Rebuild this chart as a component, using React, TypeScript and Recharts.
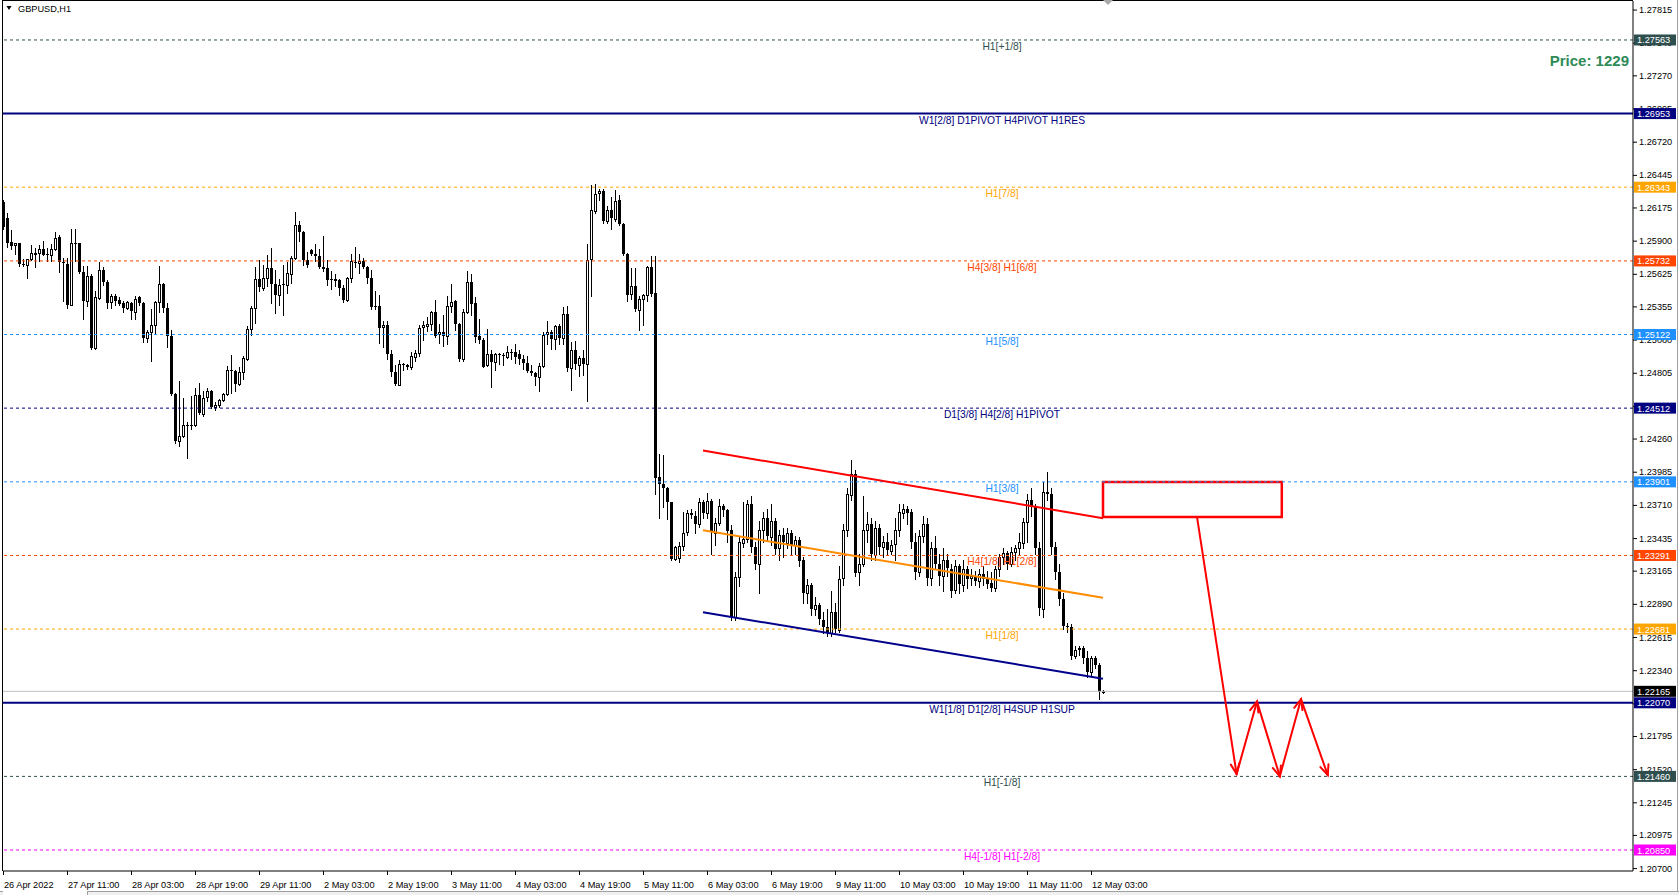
import { Bar, ComposedChart, ReferenceArea, ReferenceLine, XAxis, YAxis } from "recharts";

const CHART_W = 1679;
const CHART_H = 895;
const FONT = "'Liberation Sans', Arial, sans-serif";

// price window of the plot, bar index runs past the last bar (chart shift)
const Y_MIN = 1.20676;
const Y_MAX = 1.27886;
const X_MAX = 407.5;

// GBPUSD H1, bar 0 = 26 Apr 2022 19:00
const OPEN = [
  1.2622, 1.2609, 1.2589, 1.2586, 1.2588, 1.2571, 1.2570, 1.2575, 1.2579, 1.2580,
  1.2583, 1.2579, 1.2578, 1.2583, 1.2593, 1.2572, 1.2571, 1.2537, 1.2588, 1.2588,
  1.2564, 1.2540, 1.2561, 1.2501, 1.2543, 1.2566, 1.2556, 1.2539, 1.2544, 1.2541,
  1.2538, 1.2534, 1.2538, 1.2531, 1.2543, 1.2538, 1.2509, 1.2514, 1.2520, 1.2539,
  1.2554, 1.2534, 1.2511, 1.2463, 1.2424, 1.2428, 1.2437, 1.2437, 1.2437, 1.2462,
  1.2447, 1.2460, 1.2465, 1.2452, 1.2454, 1.2458, 1.2463, 1.2483, 1.2482, 1.2471,
  1.2481, 1.2492, 1.2517, 1.2534, 1.2558, 1.2551, 1.2559, 1.2567, 1.2554, 1.2545,
  1.2554, 1.2553, 1.2563, 1.2576, 1.2603, 1.2597, 1.2574, 1.2582, 1.2579, 1.2577,
  1.2568, 1.2567, 1.2558, 1.2557, 1.2557, 1.2551, 1.2541, 1.2559, 1.2572, 1.2571,
  1.2573, 1.2568, 1.2559, 1.2536, 1.2536, 1.2518, 1.2520, 1.2496, 1.2481, 1.2471,
  1.2488, 1.2487, 1.2485, 1.2494, 1.2497, 1.2518, 1.2519, 1.2521, 1.2531, 1.2512,
  1.2514, 1.2511, 1.2536, 1.2540, 1.2521, 1.2492, 1.2531, 1.2556, 1.2538, 1.2511,
  1.2508, 1.2487, 1.2496, 1.2489, 1.2496, 1.2495, 1.2494, 1.2498, 1.2498, 1.2496,
  1.2492, 1.2489, 1.2482, 1.2480, 1.2477, 1.2486, 1.2512, 1.2514, 1.2508, 1.2519,
  1.2509, 1.2529, 1.2484, 1.2499, 1.2487, 1.2493, 1.2488, 1.2574, 1.2615, 1.2629,
  1.2631, 1.2606, 1.2615, 1.2608, 1.2624, 1.2604, 1.2579, 1.2545, 1.2552, 1.2533,
  1.2542, 1.2545, 1.2568, 1.2547, 1.2394, 1.2388, 1.2385, 1.2373, 1.2326, 1.2327,
  1.2337, 1.2348, 1.2364, 1.2362, 1.2355, 1.2373, 1.2364, 1.2374, 1.2348, 1.2356,
  1.2370, 1.2367, 1.2350, 1.2278, 1.2311, 1.2340, 1.2343, 1.2372, 1.2336, 1.2322,
  1.2350, 1.2360, 1.2345, 1.2358, 1.2335, 1.2346, 1.2340, 1.2348, 1.2338, 1.2342,
  1.2325, 1.2298, 1.2305, 1.2285, 1.2288, 1.2276, 1.2270, 1.2265, 1.2282, 1.2268,
  1.2310, 1.2350, 1.2380, 1.2397, 1.2315, 1.2322, 1.2350, 1.2355, 1.2330, 1.2352,
  1.2336, 1.2340, 1.2333, 1.2338, 1.2350, 1.2365, 1.2368, 1.2365, 1.2340, 1.2315,
  1.2345, 1.2355, 1.2310, 1.2335, 1.2322, 1.2312, 1.2325, 1.2318, 1.2300, 1.2320,
  1.2305, 1.2318, 1.2310, 1.2312, 1.2308, 1.2314, 1.2310, 1.2306, 1.2302, 1.2318,
  1.2328, 1.2331, 1.2322, 1.2332, 1.2335, 1.2340, 1.2357, 1.2375, 1.2370, 1.2335,
  1.2285, 1.2382, 1.2380, 1.2336, 1.2315, 1.2293, 1.2271, 1.2270, 1.2246, 1.2251,
  1.2252, 1.2244, 1.2232, 1.2244, 1.2238, 1.2216,
];
const HIGH = [
  1.2624, 1.2613, 1.2599, 1.2588, 1.2588, 1.2575, 1.2575, 1.2586, 1.2584, 1.2586,
  1.2590, 1.2584, 1.2587, 1.2597, 1.2595, 1.2576, 1.2576, 1.2600, 1.2600, 1.2588,
  1.2569, 1.2569, 1.2562, 1.2548, 1.2572, 1.2568, 1.2557, 1.2546, 1.2546, 1.2543,
  1.2540, 1.2540, 1.2539, 1.2544, 1.2544, 1.2539, 1.2516, 1.2533, 1.2540, 1.2569,
  1.2555, 1.2538, 1.2516, 1.2464, 1.2474, 1.2460, 1.2440, 1.2461, 1.2468, 1.2472,
  1.2465, 1.2468, 1.2466, 1.2456, 1.2459, 1.2464, 1.2486, 1.2495, 1.2483, 1.2485,
  1.2494, 1.2519, 1.2536, 1.2568, 1.2574, 1.2570, 1.2578, 1.2584, 1.2566, 1.2558,
  1.2570, 1.2572, 1.2577, 1.2614, 1.2606, 1.2598, 1.2581, 1.2583, 1.2587, 1.2583,
  1.2594, 1.2574, 1.2565, 1.2562, 1.2558, 1.2553, 1.2560, 1.2579, 1.2585, 1.2579,
  1.2576, 1.2569, 1.2566, 1.2548, 1.2545, 1.2523, 1.2523, 1.2499, 1.2487, 1.2491,
  1.2489, 1.2488, 1.2498, 1.2499, 1.2520, 1.2523, 1.2527, 1.2532, 1.2541, 1.2521,
  1.2528, 1.2544, 1.2554, 1.2541, 1.2522, 1.2533, 1.2565, 1.2562, 1.2543, 1.2525,
  1.2509, 1.2517, 1.2499, 1.2497, 1.2497, 1.2497, 1.2503, 1.2500, 1.2504, 1.2499,
  1.2495, 1.2494, 1.2487, 1.2481, 1.2489, 1.2514, 1.2523, 1.2516, 1.2520, 1.2521,
  1.2535, 1.2536, 1.2506, 1.2507, 1.2494, 1.2499, 1.2587, 1.2636, 1.2637, 1.2633,
  1.2633, 1.2619, 1.2626, 1.2632, 1.2628, 1.2605, 1.2580, 1.2567, 1.2567, 1.2544,
  1.2546, 1.2569, 1.2577, 1.2577, 1.2413, 1.2412, 1.2386, 1.2373, 1.2337, 1.2340,
  1.2365, 1.2367, 1.2368, 1.2366, 1.2377, 1.2375, 1.2381, 1.2376, 1.2360, 1.2376,
  1.2372, 1.2368, 1.2354, 1.2315, 1.2345, 1.2373, 1.2375, 1.2378, 1.2340, 1.2358,
  1.2365, 1.2368, 1.2372, 1.2360, 1.2350, 1.2352, 1.2352, 1.2350, 1.2345, 1.2344,
  1.2328, 1.2310, 1.2306, 1.2295, 1.2290, 1.2282, 1.2285, 1.2300, 1.2290, 1.2320,
  1.2355, 1.2385, 1.2408, 1.2400, 1.2330, 1.2378, 1.2365, 1.2360, 1.2358, 1.2355,
  1.2345, 1.2348, 1.2342, 1.2360, 1.2372, 1.2372, 1.2370, 1.2368, 1.2348, 1.2350,
  1.2362, 1.2360, 1.2340, 1.2345, 1.2330, 1.2335, 1.2330, 1.2322, 1.2325, 1.2322,
  1.2325, 1.2320, 1.2318, 1.2316, 1.2318, 1.2320, 1.2316, 1.2315, 1.2320, 1.2330,
  1.2335, 1.2333, 1.2336, 1.2338, 1.2348, 1.2360, 1.2380, 1.2385, 1.2372, 1.2340,
  1.2390, 1.2398, 1.2385, 1.2340, 1.2322, 1.2298, 1.2273, 1.2272, 1.2254, 1.2254,
  1.2254, 1.2250, 1.2246, 1.2246, 1.2240, 1.2218,
];
const LOW = [
  1.2600, 1.2585, 1.2583, 1.2579, 1.2569, 1.2569, 1.2559, 1.2574, 1.2568, 1.2573,
  1.2578, 1.2573, 1.2573, 1.2582, 1.2564, 1.2540, 1.2534, 1.2537, 1.2573, 1.2563,
  1.2525, 1.2536, 1.2500, 1.2500, 1.2542, 1.2553, 1.2534, 1.2534, 1.2537, 1.2537,
  1.2531, 1.2533, 1.2525, 1.2525, 1.2537, 1.2506, 1.2506, 1.2490, 1.2513, 1.2531,
  1.2531, 1.2502, 1.2462, 1.2422, 1.2420, 1.2427, 1.2410, 1.2434, 1.2436, 1.2446,
  1.2445, 1.2457, 1.2451, 1.2450, 1.2452, 1.2457, 1.2462, 1.2464, 1.2465, 1.2470,
  1.2475, 1.2491, 1.2512, 1.2522, 1.2548, 1.2549, 1.2552, 1.2538, 1.2530, 1.2537,
  1.2528, 1.2547, 1.2555, 1.2575, 1.2590, 1.2570, 1.2568, 1.2578, 1.2573, 1.2567,
  1.2565, 1.2553, 1.2550, 1.2552, 1.2545, 1.2539, 1.2540, 1.2556, 1.2568, 1.2563,
  1.2567, 1.2555, 1.2533, 1.2533, 1.2505, 1.2502, 1.2492, 1.2478, 1.2470, 1.2470,
  1.2483, 1.2484, 1.2484, 1.2490, 1.2494, 1.2508, 1.2515, 1.2516, 1.2510, 1.2505,
  1.2503, 1.2504, 1.2531, 1.2516, 1.2490, 1.2490, 1.2530, 1.2528, 1.2506, 1.2505,
  1.2485, 1.2486, 1.2469, 1.2483, 1.2488, 1.2487, 1.2493, 1.2492, 1.2489, 1.2488,
  1.2484, 1.2481, 1.2479, 1.2470, 1.2465, 1.2485, 1.2504, 1.2500, 1.2500, 1.2504,
  1.2504, 1.2482, 1.2466, 1.2484, 1.2478, 1.2479, 1.2457, 1.2544, 1.2613, 1.2624,
  1.2605, 1.2605, 1.2600, 1.2606, 1.2603, 1.2578, 1.2540, 1.2542, 1.2532, 1.2516,
  1.2520, 1.2540, 1.2544, 1.2380, 1.2360, 1.2369, 1.2359, 1.2325, 1.2325, 1.2324,
  1.2334, 1.2346, 1.2360, 1.2348, 1.2353, 1.2360, 1.2360, 1.2330, 1.2338, 1.2354,
  1.2362, 1.2340, 1.2276, 1.2276, 1.2304, 1.2336, 1.2340, 1.2332, 1.2318, 1.2298,
  1.2340, 1.2342, 1.2338, 1.2330, 1.2325, 1.2328, 1.2335, 1.2330, 1.2330, 1.2320,
  1.2290, 1.2290, 1.2280, 1.2280, 1.2272, 1.2265, 1.2262, 1.2262, 1.2266, 1.2266,
  1.2305, 1.2345, 1.2375, 1.2312, 1.2305, 1.2320, 1.2340, 1.2325, 1.2325, 1.2330,
  1.2328, 1.2330, 1.2330, 1.2325, 1.2345, 1.2360, 1.2355, 1.2335, 1.2310, 1.2312,
  1.2340, 1.2305, 1.2305, 1.2318, 1.2305, 1.2300, 1.2312, 1.2295, 1.2298, 1.2298,
  1.2300, 1.2302, 1.2305, 1.2305, 1.2303, 1.2305, 1.2302, 1.2300, 1.2300, 1.2312,
  1.2322, 1.2318, 1.2320, 1.2325, 1.2330, 1.2335, 1.2340, 1.2362, 1.2330, 1.2280,
  1.2278, 1.2375, 1.2330, 1.2310, 1.2288, 1.2268, 1.2266, 1.2243, 1.2244, 1.2247,
  1.2240, 1.2228, 1.2230, 1.2236, 1.2210, 1.2215,
];
const CLOSE = [
  1.2601, 1.2588, 1.2586, 1.2588, 1.2571, 1.2570, 1.2575, 1.2580, 1.2580, 1.2583,
  1.2578, 1.2578, 1.2583, 1.2592, 1.2572, 1.2571, 1.2537, 1.2588, 1.2587, 1.2564,
  1.2540, 1.2561, 1.2501, 1.2543, 1.2566, 1.2556, 1.2539, 1.2544, 1.2540, 1.2538,
  1.2534, 1.2539, 1.2531, 1.2542, 1.2538, 1.2509, 1.2514, 1.2520, 1.2539, 1.2554,
  1.2534, 1.2511, 1.2463, 1.2424, 1.2428, 1.2437, 1.2436, 1.2436, 1.2462, 1.2447,
  1.2460, 1.2465, 1.2452, 1.2454, 1.2458, 1.2463, 1.2483, 1.2482, 1.2471, 1.2481,
  1.2493, 1.2517, 1.2534, 1.2558, 1.2551, 1.2559, 1.2567, 1.2554, 1.2545, 1.2553,
  1.2553, 1.2563, 1.2576, 1.2603, 1.2597, 1.2574, 1.2570, 1.2579, 1.2577, 1.2568,
  1.2566, 1.2557, 1.2557, 1.2558, 1.2550, 1.2541, 1.2559, 1.2573, 1.2571, 1.2573,
  1.2568, 1.2559, 1.2535, 1.2535, 1.2518, 1.2520, 1.2496, 1.2481, 1.2471, 1.2488,
  1.2487, 1.2485, 1.2494, 1.2497, 1.2518, 1.2520, 1.2521, 1.2531, 1.2511, 1.2514,
  1.2511, 1.2536, 1.2539, 1.2521, 1.2492, 1.2531, 1.2556, 1.2538, 1.2510, 1.2508,
  1.2486, 1.2496, 1.2489, 1.2496, 1.2495, 1.2494, 1.2498, 1.2497, 1.2494, 1.2492,
  1.2489, 1.2482, 1.2480, 1.2477, 1.2486, 1.2512, 1.2514, 1.2508, 1.2519, 1.2509,
  1.2529, 1.2484, 1.2499, 1.2487, 1.2493, 1.2488, 1.2574, 1.2615, 1.2629, 1.2631,
  1.2606, 1.2615, 1.2608, 1.2623, 1.2604, 1.2579, 1.2545, 1.2552, 1.2533, 1.2542,
  1.2545, 1.2568, 1.2546, 1.2394, 1.2388, 1.2385, 1.2373, 1.2326, 1.2336, 1.2337,
  1.2348, 1.2364, 1.2362, 1.2355, 1.2373, 1.2364, 1.2374, 1.2348, 1.2356, 1.2370,
  1.2367, 1.2350, 1.2278, 1.2311, 1.2340, 1.2343, 1.2372, 1.2336, 1.2322, 1.2350,
  1.2360, 1.2345, 1.2358, 1.2335, 1.2346, 1.2340, 1.2348, 1.2338, 1.2342, 1.2325,
  1.2298, 1.2305, 1.2285, 1.2288, 1.2276, 1.2270, 1.2265, 1.2282, 1.2268, 1.2310,
  1.2350, 1.2380, 1.2397, 1.2315, 1.2322, 1.2350, 1.2355, 1.2330, 1.2352, 1.2336,
  1.2340, 1.2333, 1.2338, 1.2350, 1.2365, 1.2368, 1.2365, 1.2340, 1.2315, 1.2345,
  1.2355, 1.2310, 1.2335, 1.2322, 1.2312, 1.2325, 1.2318, 1.2300, 1.2320, 1.2305,
  1.2318, 1.2310, 1.2312, 1.2308, 1.2314, 1.2310, 1.2306, 1.2302, 1.2318, 1.2328,
  1.2331, 1.2322, 1.2332, 1.2335, 1.2340, 1.2357, 1.2375, 1.2370, 1.2335, 1.2285,
  1.2382, 1.2380, 1.2336, 1.2315, 1.2293, 1.2271, 1.2270, 1.2246, 1.2251, 1.2252,
  1.2244, 1.2232, 1.2244, 1.2238, 1.2216, 1.22165,
];

const LAST_PRICE = 1.22165;

const TIME_TICKS = [0, 16, 32, 48, 64, 80, 96, 112, 128, 144, 160, 176, 192, 208, 224, 240, 256, 272];
const TIME_LABELS = [
  "26 Apr 2022", "27 Apr 11:00", "28 Apr 03:00", "28 Apr 19:00", "29 Apr 11:00", "2 May 03:00",
  "2 May 19:00", "3 May 11:00", "4 May 03:00", "4 May 19:00", "5 May 11:00", "6 May 03:00",
  "6 May 19:00", "9 May 11:00", "10 May 03:00", "10 May 19:00", "11 May 11:00", "12 May 03:00",
];

const PRICE_TICKS = [
  1.27815, 1.2754, 1.2727, 1.26995, 1.2672, 1.26445, 1.26175, 1.259, 1.25625, 1.25355,
  1.2508, 1.24805, 1.2453, 1.2426, 1.23985, 1.2371, 1.23435, 1.23165, 1.2289, 1.22615,
  1.2234, 1.22065, 1.21795, 1.2152, 1.21245, 1.20975, 1.207,
];

// Murrey math levels
const LEVEL_PRICES = [
  1.27563, 1.26953, 1.26343, 1.25732, 1.25122, 1.24512,
  1.23901, 1.23291, 1.22681, 1.2207, 1.2146, 1.2085,
];
const LEVEL_TAGS = [
  "H1[+1/8]", "W1[2/8] D1PIVOT H4PIVOT H1RES", "H1[7/8]", "H4[3/8] H1[6/8]", "H1[5/8]", "D1[3/8] H4[2/8] H1PIVOT",
  "H1[3/8]", "H4[1/8] H1[2/8]", "H1[1/8]", "W1[1/8] D1[2/8] H4SUP H1SUP", "H1[-1/8]", "H4[-1/8] H1[-2/8]",
];
const LEVEL_COLORS = [
  "#2F4F4F", "#000080", "#FFA500", "#FF4500", "#1E90FF", "#000080",
  "#1E90FF", "#FF4500", "#FFA500", "#000080", "#2F4F4F", "#FF00FF",
];
const LEVEL_SOLID = [false, true, false, false, false, false, false, false, false, true, false, false];

// descending channel drawn from bar 175 to bar 275
const CHANNEL_X = [175, 275];
const CHANNEL_TOP = [1.2416, 1.236];
const CHANNEL_MID = [1.235, 1.2294];
const CHANNEL_BOTTOM = [1.2282, 1.2227];

// sell zone box and projected path
const ZONE_X = [275, 319.7];
const ZONE_Y = [1.2361, 1.239];
const PATH_X = [298.5, 308.4, 313.5, 319.2, 324.5, 331.2];
const PATH_Y = [1.2361, 1.2148, 1.2208, 1.2146, 1.221, 1.2147];

const LABEL_CENTER_X = 1002;

const candles = OPEN.map((open, i) => ({
  i,
  open,
  high: HIGH[i],
  low: LOW[i],
  close: CLOSE[i],
  range: [LOW[i], HIGH[i]],
}));

function Candle(props: any) {
  const { x, y, width, height, payload } = props;
  if (x == null || !payload) return null;
  const cx = Math.round(x + width / 2);
  const top = Math.min(y, y + height);
  const span = Math.abs(height);
  const range = payload.high - payload.low || 1e-9;
  const py = (p: number) => top + ((payload.high - p) / range) * span;
  const yo = py(payload.open);
  const yc = py(payload.close);
  const bodyTop = Math.round(Math.min(yo, yc));
  const bodyH = Math.max(1, Math.round(Math.abs(yo - yc)));
  const bull = payload.close > payload.open;
  return (
    <g shapeRendering="crispEdges">
      <line x1={cx + 0.5} x2={cx + 0.5} y1={Math.round(top)} y2={Math.round(top + span) + 1} stroke="#000" />
      {bull ? (
        <rect x={cx - 0.5} y={bodyTop + 0.5} width={2} height={Math.max(1, bodyH)} fill="#fff" stroke="#000" />
      ) : (
        <rect x={cx - 1} y={bodyTop} width={3} height={bodyH} fill="#000" />
      )}
    </g>
  );
}

function PriceTick(props: any) {
  const { x, y, payload } = props;
  const value = payload.value as number;
  const axisX = x - 6;
  const text = value.toFixed(5);
  const lvl = LEVEL_PRICES.indexOf(value);
  if (lvl >= 0 || value === LAST_PRICE) {
    const fill = lvl >= 0 ? LEVEL_COLORS[lvl] : "#000";
    return (
      <g>
        <rect x={axisX + 1} y={y - 5.5} width={42} height={11} fill={fill} />
        <text x={axisX + 4} y={y + 3.5} fill="#fff" fontSize={9.2} fontFamily={FONT}>
          {text}
        </text>
      </g>
    );
  }
  return (
    <g>
      <line x1={axisX} x2={axisX + 4} y1={y + 0.5} y2={y + 0.5} stroke="#000" />
      <text x={x} y={y + 3.5} fill="#000" fontSize={9.2} fontFamily={FONT}>
        {text}
      </text>
    </g>
  );
}

function TimeTick(props: any) {
  const { x, y, payload } = props;
  const axisY = y - 6;
  const label = TIME_LABELS[TIME_TICKS.indexOf(payload.value)];
  return (
    <g>
      <line x1={x + 0.5} x2={x + 0.5} y1={axisY} y2={axisY + 4} stroke="#000" />
      <text x={x + 1} y={axisY + 16.5} fill="#000" fontSize={9.2} fontFamily={FONT}>
        {label}
      </text>
    </g>
  );
}

const levelLabel = (tag: string, color: string) => (props: any) => {
  const vb = props.viewBox;
  if (!vb) return null;
  return (
    <text x={LABEL_CENTER_X} y={vb.y + 10} textAnchor="middle" fill={color} fontSize={10.3} fontFamily={FONT}>
      {tag}
    </text>
  );
};

function ArrowSegment(props: any) {
  const { x1, y1, x2, y2 } = props;
  const ang = Math.atan2(y2 - y1, x2 - x1);
  const len = 11;
  const spread = 0.4;
  const ax = x2 - len * Math.cos(ang - spread);
  const ay = y2 - len * Math.sin(ang - spread);
  const bx = x2 - len * Math.cos(ang + spread);
  const by = y2 - len * Math.sin(ang + spread);
  return (
    <g stroke="#FF0000" strokeWidth={2} fill="none" strokeLinecap="round">
      <line x1={x1} y1={y1} x2={x2} y2={y2} />
      <polyline points={`${ax},${ay} ${x2},${y2} ${bx},${by}`} />
    </g>
  );
}

export default function App() {
  const yTicks = [...PRICE_TICKS, ...LEVEL_PRICES, LAST_PRICE];
  const arrowSegments = PATH_X.slice(1).map((px, k) => [
    { x: PATH_X[k], y: PATH_Y[k] },
    { x: px, y: PATH_Y[k + 1] },
  ]);

  return (
    <div
      style={{
        position: "absolute",
        left: 0,
        top: 0,
        width: CHART_W,
        height: CHART_H,
        background: "#fff",
        fontFamily: FONT,
      }}
    >
      <ComposedChart
        width={CHART_W}
        height={CHART_H}
        data={candles}
        margin={{ top: 1, right: 0, bottom: 0, left: 3 }}
      >
        <XAxis
          type="number"
          dataKey="i"
          domain={[0, X_MAX]}
          allowDataOverflow
          ticks={TIME_TICKS}
          interval={0}
          tick={<TimeTick />}
          tickLine={false}
          tickSize={4}
          tickMargin={2}
          axisLine={{ stroke: "#000" }}
          height={24}
        />
        <YAxis
          orientation="right"
          type="number"
          domain={[Y_MIN, Y_MAX]}
          allowDataOverflow
          ticks={yTicks}
          interval={0}
          tick={<PriceTick />}
          tickLine={false}
          tickSize={4}
          tickMargin={2}
          axisLine={{ stroke: "#000" }}
          width={46}
        />

        {LEVEL_PRICES.map((p, k) => (
          <ReferenceLine
            key={`lvl-${k}`}
            y={p}
            stroke={LEVEL_COLORS[k]}
            strokeWidth={LEVEL_SOLID[k] ? 2 : 1}
            strokeDasharray={LEVEL_SOLID[k] ? undefined : "3 3"}
            label={levelLabel(LEVEL_TAGS[k], LEVEL_COLORS[k])}
          />
        ))}
        <ReferenceLine y={LAST_PRICE} stroke="#C0C0C0" strokeWidth={1} />

        <Bar dataKey="range" barSize={3} shape={<Candle />} isAnimationActive={false} />

        <ReferenceLine
          segment={[{ x: CHANNEL_X[0], y: CHANNEL_TOP[0] }, { x: CHANNEL_X[1], y: CHANNEL_TOP[1] }]}
          stroke="#FF0000"
          strokeWidth={2}
        />
        <ReferenceLine
          segment={[{ x: CHANNEL_X[0], y: CHANNEL_MID[0] }, { x: CHANNEL_X[1], y: CHANNEL_MID[1] }]}
          stroke="#FF8C00"
          strokeWidth={2}
        />
        <ReferenceLine
          segment={[{ x: CHANNEL_X[0], y: CHANNEL_BOTTOM[0] }, { x: CHANNEL_X[1], y: CHANNEL_BOTTOM[1] }]}
          stroke="#00008B"
          strokeWidth={2}
        />
        <ReferenceArea
          x1={ZONE_X[0]}
          x2={ZONE_X[1]}
          y1={ZONE_Y[0]}
          y2={ZONE_Y[1]}
          stroke="#FF0000"
          strokeWidth={2.5}
          fill="none"
          fillOpacity={0}
        />
        {arrowSegments.map((seg, k) => (
          <ReferenceLine key={`arrow-${k}`} segment={seg} shape={<ArrowSegment />} />
        ))}
      </ComposedChart>

      <svg
        width={CHART_W}
        height={CHART_H}
        style={{ position: "absolute", left: 0, top: 0, pointerEvents: "none" }}
      >
        <line x1={2.5} y1={0} x2={2.5} y2={871} stroke="#000" />
        <line x1={2} y1={0.5} x2={1633} y2={0.5} stroke="#000" />
        <line x1={1677.5} y1={0} x2={1677.5} y2={891} stroke="#A0A0A0" />
        <rect x={0} y={891} width={CHART_W} height={4} fill="#F0F0F0" />
        <line x1={0} y1={891.5} x2={CHART_W} y2={891.5} stroke="#A0A0A0" />
        <rect x={3} y={891} width={84} height={4} fill="#fff" />
        <line x1={87.5} y1={891} x2={87.5} y2={895} stroke="#A0A0A0" />
        <polygon points="6.5,6 11.5,6 9,10" fill="#000" />
        <text x={18} y={11.5} fontSize={9.2} fontFamily={FONT} fill="#000">
          GBPUSD,H1
        </text>
        <polygon points="1103,0 1113,0 1108,5" fill="#A9A9A9" />
        <text
          x={1629}
          y={65.5}
          textAnchor="end"
          fontSize={15}
          fontWeight="bold"
          fontFamily={FONT}
          fill="#2E8B57"
        >
          Price: 1229
        </text>
      </svg>
    </div>
  );
}
